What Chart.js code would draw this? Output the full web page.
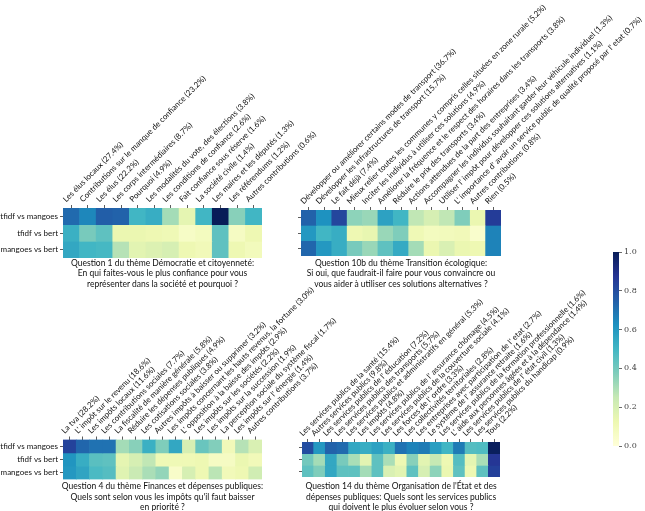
<!DOCTYPE html>
<html><head><meta charset="utf-8">
<script src="https://cdn.jsdelivr.net/npm/chart.js@4.4.1/dist/chart.umd.min.js"></script>
<style>
html,body{margin:0;padding:0;background:#fff;}
body{width:645px;height:511px;overflow:hidden;position:relative;}
canvas{position:absolute;left:0;top:0;}
.ttl{position:absolute;width:320px;text-align:center;font-family:Lato,'DejaVu Sans',sans-serif;font-size:8.5px;line-height:10.5px;color:#111;white-space:nowrap;}
</style></head><body>
<canvas id="c1" width="645" height="511"></canvas>
<canvas id="c2" width="645" height="511"></canvas>
<canvas id="c3" width="645" height="511"></canvas>
<canvas id="c4" width="645" height="511"></canvas>
<canvas id="cb" width="645" height="511"></canvas>
<div class="ttl" style="left:2.5px;top:257.5px">Question 1 du thème Démocratie et citoyenneté:<br>En qui faites-vous le plus confiance pour vous<br>représenter dans la société et pourquoi ?</div>
<div class="ttl" style="left:241px;top:257.5px">Question 10b du thème Transition écologique:<br>Si oui, que faudrait-il faire pour vous convaincre ou<br>vous aider à utiliser ces solutions alternatives ?</div>
<div class="ttl" style="left:2.5px;top:481px">Question 4 du thème Finances et dépenses publiques:<br>Quels sont selon vous les impôts qu'il faut baisser<br>en priorité ?</div>
<div class="ttl" style="left:241px;top:481px">Question 14 du thème Organisation de l'État et des<br>dépenses publiques: Quels sont les services publics<br>qui doivent le plus évoluer selon vous ?</div>
<script>
const rowLabels = ['tfidf vs mangoes', 'tfidf vs bert', 'mangoes vs bert'];

const q1Labels = ['Les élus locaux (27.4%)', 'Contributions sur le manque de confiance (23.2%)', 'Les élus (22.2%)', 'Les corps intermédiaires (8.7%)', 'Pourquoi (4.9%)', 'Les modalités du vote, des élections (3.8%)', 'Les conditions de confiance (2.6%)', 'Fait confiance sous réserve (1.6%)', 'La société civile (1.4%)', 'Les maires et les députés (1.3%)', 'Les référendums (1.2%)', 'Autres contributions (0.6%)'];
const q1TfidfMangoes = [0.72, 0.65, 0.75, 0.74, 0.50, 0.53, 0.31, 0.15, 0.50, 1.00, 0.36, 0.50];
const q1TfidfBert    = [0.52, 0.39, 0.44, 0.13, 0.13, 0.12, 0.11, 0.06, 0.08, 0.44, 0.07, 0.12];
const q1MangoesBert  = [0.55, 0.50, 0.49, 0.28, 0.16, 0.18, 0.20, 0.12, 0.10, 0.44, 0.12, 0.09];

const q10Labels = ['Développer ou améliorer certains modes de transport (36.7%)', 'Développer les infrastructures de transport (15.7%)', 'Le fait déjà (7.4%)', 'Mieux relier toutes les communes y compris celles situées en zone rurale (5.2%)', 'Inciter les individus à utiliser ces solutions (4.9%)', 'Améliorer la fréquence et le respect des horaires dans les transports (3.8%)', 'Réduire le prix des transports (3.4%)', 'Actions attendues de la part des entreprises (3.4%)', 'Accompagner les individus souhaitant garder leur véhicule individuel (1.3%)', "Utiliser l' impôt pour développer ces solutions alternatives (1.1%)", "L' importance d' avoir un service public de qualité proposé par l' etat (0.7%)", 'Autres contributions (0.8%)', 'Rien (0.5%)'];
const q10TfidfMangoes = [0.74, 0.62, 0.82, 0.35, 0.33, 0.57, 0.50, 0.26, 0.20, 0.26, 0.375, 0.13, 0.85];
const q10TfidfBert    = [0.60, 0.50, 0.53, 0.12, 0.14, 0.33, 0.375, 0.11, 0.08, 0.09, 0.10, 0.04, 0.66];
const q10MangoesBert  = [0.73, 0.60, 0.53, 0.39, 0.33, 0.44, 0.54, 0.31, 0.13, 0.19, 0.13, 0.12, 0.66];

const q4Labels = ['La tva (28.2%)', "L' impôt sur le revenu (18.6%)", 'Les impôts locaux (11.6%)', 'Les contributions sociales (7.7%)', 'La fiscalité de manière générale (5.8%)', 'Réduire les dépenses publiques (4.9%)', 'Les cotisations sociales (3.8%)', 'Autres impôts à baisser ou supprimer (3.2%)', 'Les impôts concernant les hauts revenus, la fortune (3.0%)', "L' opposition à la baisse des impôts (2.9%)", 'Les impôts sur les sociétés (2.2%)', 'Les impôts sur la succession (1.9%)', 'La perception sociale du système fiscal (1.7%)', "Les impôts sur l' énergie (1.4%)", 'Autres contributions (3.7%)'];
const q4TfidfMangoes = [0.83, 0.73, 0.70, 0.70, 0.31, 0.36, 0.52, 0.375, 0.55, 0.20, 0.42, 0.37, 0.10, 0.28, 0.19];
const q4TfidfBert    = [0.61, 0.53, 0.45, 0.44, 0.15, 0.20, 0.26, 0.11, 0.11, 0.11, 0.12, 0.07, 0.07, 0.13, 0.10];
const q4MangoesBert  = [0.60, 0.56, 0.48, 0.46, 0.17, 0.24, 0.30, 0.34, 0.05, 0.20, 0.12, 0.27, 0.10, 0.12, 0.22];

const q14Labels = ['Les services publics de la santé (15.4%)', 'Autres services publics (9.8%)', "Les services publics de l' éducation (7.2%)", 'Les services publics des transports (5.7%)', 'Les services publics et administratifs en général (5.3%)', 'Les impôts (4.8%)', "Les services publics de l' assurance chômage (4.5%)", 'Les services publics de la couverture sociale (4.1%)', "Les forces de l' ordre (3.3%)", 'Les collectivités territoriales (2.8%)', "Les entreprises avec participation de l' etat (2.7%)", "Le système de l' assurance retraite (1.6%)", 'Les services publics de la formation professionnelle (1.6%)', "L' aide aux personnes âgées et à la dépendance (1.4%)", "Les services publics de l' état civil (1.3%)", 'Les services publics du handicap (0.9%)', 'Tous (2.2%)'];
const q14TfidfMangoes = [0.80, 0.60, 0.74, 0.72, 0.55, 0.53, 0.57, 0.52, 0.70, 0.66, 0.68, 0.58, 0.50, 0.68, 0.46, 0.47, 0.99];
const q14TfidfBert    = [0.40, 0.31, 0.55, 0.39, 0.30, 0.16, 0.44, 0.30, 0.12, 0.36, 0.16, 0.25, 0.12, 0.46, 0.15, 0.30, 0.87];
const q14MangoesBert  = [0.44, 0.375, 0.55, 0.44, 0.44, 0.31, 0.44, 0.19, 0.16, 0.44, 0.20, 0.35, 0.13, 0.44, 0.12, 0.44, 0.84];

const colorbarTicks = [0, 0.2, 0.4, 0.6, 0.8, 1.0];

const W = 645, H = 511;
const FONT = "Lato, 'DejaVu Sans', sans-serif";
const STOPS = [[255,255,217],[237,248,177],[199,233,180],[127,205,187],[65,182,196],[29,145,192],[34,94,168],[37,52,148],[8,29,88]];
function ylgnbu(v) {
  v = Math.max(0, Math.min(1, v));
  const p = v * 8, i = Math.min(7, Math.floor(p)), f = p - i;
  const a = STOPS[i], b = STOPS[i + 1];
  return 'rgb(' + a.map((c, k) => Math.round(c + (b[k] - c) * f)).join(',') + ')';
}

function heatmap(id, labels, rows, box, showRows, fontSize) {
  // axis boxes span all the room up to the canvas edges so labels are never clipped
  const xH = box.t, yW = box.l;
  new Chart(document.getElementById(id), {
    type: 'bar',
    data: {
      labels: labels,
      datasets: rows.map((vals, r) => ({
        data: vals.map(() => [r, r + 1]),
        backgroundColor: vals.map(ylgnbu),
        borderWidth: 0, barPercentage: 1, categoryPercentage: 1, grouped: false
      }))
    },
    options: {
      responsive: false, animation: false, events: [],
      layout: { autoPadding: false, padding: { left: 0, top: 0, right: W - box.r, bottom: H - box.b } },
      plugins: { legend: { display: false }, tooltip: { enabled: false } },
      scales: {
        x: {
          position: 'top', offset: true,
          grid: { offset: false, drawOnChartArea: false, drawTicks: true, tickLength: 3, color: '#333', lineWidth: 0.8 },
          border: { display: false },
          ticks: { autoSkip: false, maxRotation: 45, minRotation: 45, padding: 1, color: '#111', font: { family: FONT, size: fontSize } },
          afterFit: s => { s.height = xH; }
        },
        y: {
          min: 0, max: 3, reverse: true,
          grid: { drawOnChartArea: false, drawTicks: true, tickLength: 3, color: '#333', lineWidth: 0.8 },
          border: { display: false },
          afterBuildTicks: s => { s.ticks = [0.5, 1.5, 2.5].map(v => ({ value: v })); },
          ticks: { callback: v => showRows ? rowLabels[Math.floor(v)] : '', padding: 2, color: '#111', font: { family: FONT, size: 8 } },
          afterFit: s => { s.width = yW; }
        }
      }
    }
  });
}

heatmap('c1', q1Labels, [q1TfidfMangoes, q1TfidfBert, q1MangoesBert], { l: 63, t: 208, r: 262, b: 258 }, true, 8);
heatmap('c2', q10Labels, [q10TfidfMangoes, q10TfidfBert, q10MangoesBert], { l: 301, t: 210, r: 501, b: 256 }, false, 8);
heatmap('c3', q4Labels, [q4TfidfMangoes, q4TfidfBert, q4MangoesBert], { l: 63, t: 439.5, r: 262, b: 479.5 }, true, 8);
heatmap('c4', q14Labels, [q14TfidfMangoes, q14TfidfBert, q14MangoesBert], { l: 302, t: 442, r: 500, b: 477 }, false, 8);

new Chart(document.getElementById('cb'), {
  type: 'bar',
  data: { labels: [''], datasets: [{
    data: [[0, 1]],
    backgroundColor: ctx => {
      const ca = ctx.chart.chartArea; if (!ca) return null;
      const g = ctx.chart.ctx.createLinearGradient(0, ca.bottom, 0, ca.top);
      for (let i = 0; i <= 32; i++) g.addColorStop(i / 32, ylgnbu(i / 32));
      return g;
    },
    borderWidth: 0, barPercentage: 1, categoryPercentage: 1
  }] },
  options: {
    responsive: false, animation: false, events: [],
    layout: { autoPadding: false, padding: { left: 613, top: 252, right: 0, bottom: H - 446 } },
    plugins: { legend: { display: false }, tooltip: { enabled: false } },
    scales: {
      x: { display: false },
      y: {
        position: 'right', min: 0, max: 1,
        afterBuildTicks: s => { s.ticks = colorbarTicks.map(v => ({ value: v })); },
        ticks: { callback: v => v.toFixed(1), padding: 2, color: '#444', font: { family: "'DejaVu Serif', serif", size: 8 } },
        grid: { drawOnChartArea: false, drawTicks: true, tickLength: 3, color: '#444', lineWidth: 0.8 },
        border: { display: false },
        afterFit: s => { s.width = W - 619; }
      }
    }
  }
});
</script>
</body></html>
